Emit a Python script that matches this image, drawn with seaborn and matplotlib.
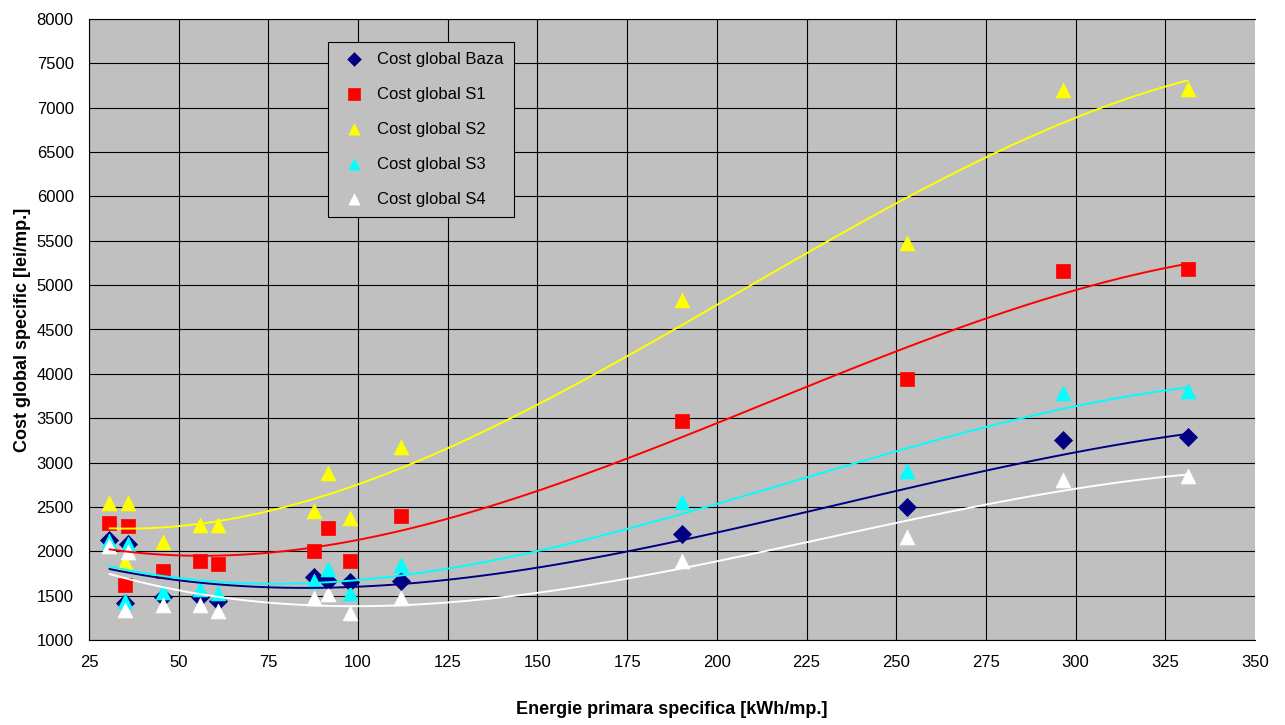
import matplotlib
matplotlib.use("Agg")
import matplotlib.pyplot as plt
import numpy as np
import seaborn as sns

# Specific primary energy [kWh/mp.] for each variant
energie = [30.7, 35.1, 35.9, 45.6, 56.0, 60.9, 87.6, 91.6, 97.8, 112.1,
           190.2, 253.1, 296.4, 331.2]

# Specific global cost [lei/mp.] per scenario
cost_baza = [2130, 1420, 2080, 1480, 1480, 1445, 1705, 1665, 1655, 1660,
             2195, 2495, 3250, 3285]
cost_s1 = [2320, 1625, 2290, 1780, 1890, 1855, 2005, 2260, 1895, 2395,
           3470, 3940, 5160, 5180]
cost_s2 = [2540, 1880, 2540, 2100, 2295, 2295, 2450, 2880, 2375, 3180,
           4830, 5475, 7200, 7215]
cost_s3 = [2115, 1445, 2085, 1545, 1580, 1535, 1670, 1795, 1530, 1845,
           2550, 2900, 3780, 3810]
cost_s4 = [2060, 1340, 1995, 1395, 1395, 1330, 1475, 1515, 1305, 1475,
           1885, 2160, 2800, 2845]

labels = ["Cost global Baza", "Cost global S1", "Cost global S2",
          "Cost global S3", "Cost global S4"]
x_ticks = list(range(25, 351, 25))
y_ticks = list(range(1000, 8001, 500))

series = [cost_baza, cost_s1, cost_s2, cost_s3, cost_s4]
colors = ["#000080", "#FF0000", "#FFFF00", "#00FFFF", "#FFFFFF"]
markers = ["D", "s", "^", "^", "^"]
sizes = [85, 115, 115, 115, 115]

sns.set_style("white")
plt.rcParams["font.family"] = ["Liberation Sans", "DejaVu Sans"]
plt.rcParams["text.color"] = "black"
plt.rcParams["axes.labelcolor"] = "black"

fig = plt.figure(figsize=(12.85, 7.25), dpi=100)
ax = fig.add_axes([89 / 1285, 1 - 640 / 725, (1255 - 89) / 1285, (640 - 19) / 725])
ax.set_facecolor("#C0C0C0")

# Scatter of each scenario with its cubic trend line
for vals, lab, col, mk, sz in zip(series, labels, colors, markers, sizes):
    sns.regplot(x=energie, y=vals, order=3, ci=None, truncate=True, ax=ax,
                marker=mk, color=col, label=lab,
                scatter_kws=dict(s=sz, edgecolors=col, linewidths=0.5,
                                 alpha=1, zorder=3),
                line_kws=dict(lw=1.4, zorder=4))

ax.set_xlim(25, 350)
ax.set_ylim(1000, 8000)
ax.set_xticks(x_ticks)
ax.set_yticks(y_ticks)
ax.tick_params(axis="both", direction="out", length=5, width=0.8,
               color="black", labelsize=12, labelcolor="black", pad=6)
ax.grid(True, color="black", linewidth=0.8)
ax.set_axisbelow(True)
ax.get_xgridlines()[-1].set_visible(False)

for side in ("left", "bottom", "top"):
    ax.spines[side].set_color("black")
    ax.spines[side].set_linewidth(0.8)
ax.spines["right"].set_visible(False)

ax.set_xlabel("Energie primara specifica [kWh/mp.]", fontsize=13,
              fontweight="bold", labelpad=22, color="black")
ax.set_ylabel("Cost global specific [lei/mp.]", fontsize=13,
              fontweight="bold", labelpad=4, color="black")

leg = ax.legend(loc="upper left", bbox_to_anchor=(0.205, 0.9634),
                fontsize=12, frameon=True, fancybox=False, shadow=False,
                borderpad=0.6, labelspacing=1.2, handlelength=1.9,
                handletextpad=0.44, borderaxespad=0, scatterpoints=1,
                markerscale=0.75)
leg.get_frame().set_facecolor("#C0C0C0")
leg.get_frame().set_edgecolor("black")
leg.get_frame().set_linewidth(0.8)
leg.get_frame().set_alpha(1)
for t in leg.get_texts():
    t.set_color("black")

fig.savefig("out.png", dpi=100, facecolor="white")
